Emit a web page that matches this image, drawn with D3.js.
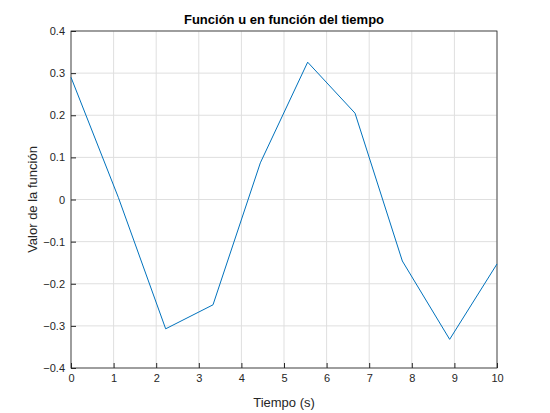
<!DOCTYPE html>
<html><head><meta charset="utf-8">
<script src="https://cdn.jsdelivr.net/npm/d3@7"></script>
<style>body{margin:0;background:#fff}svg{font-family:"Liberation Sans",Arial,sans-serif}</style>
</head><body>
<script>
// sample times (linspace 0..10, 10 points) and function values
var tiempo = [0, 10/9, 20/9, 30/9, 40/9, 50/9, 60/9, 70/9, 80/9, 10];
var valores = [0.29, 0.005, -0.307, -0.25, 0.087, 0.326, 0.205, -0.146, -0.332, -0.153];
var xTicks = [0,1,2,3,4,5,6,7,8,9,10];
var yTicks = [-0.4,-0.3,-0.2,-0.1,0,0.1,0.2,0.3,0.4];

var w = 550, h = 413;
var m = {left: 71, right: 53, top: 31, bottom: 45};
var svg = d3.select("body").append("svg").attr("width", w).attr("height", h);

var x = d3.scaleLinear().domain([0,10]).range([m.left, w - m.right]);
var y = d3.scaleLinear().domain([-0.4,0.4]).range([h - m.bottom, m.top]);

svg.append("rect").attr("x", m.left).attr("y", m.top)
  .attr("width", x(10) - x(0)).attr("height", y(-0.4) - y(0.4)).attr("fill", "#fff");

// grid
svg.append("g").selectAll("line").data(xTicks).enter().append("line")
  .attr("x1", d => x(d)).attr("x2", d => x(d)).attr("y1", y(-0.4)).attr("y2", y(0.4))
  .attr("stroke", "#dfdfdf").attr("stroke-width", 1);
svg.append("g").selectAll("line").data(yTicks).enter().append("line")
  .attr("y1", d => y(d)).attr("y2", d => y(d)).attr("x1", x(0)).attr("x2", x(10))
  .attr("stroke", "#dfdfdf").attr("stroke-width", 1);

// box
svg.append("rect").attr("x", m.left).attr("y", m.top)
  .attr("width", x(10) - x(0)).attr("height", y(-0.4) - y(0.4))
  .attr("fill", "none").attr("stroke", "#262626").attr("stroke-width", 0.8);

var fmt = d => d === 0 ? "0" : d3.format(".1f")(d);
var xa = svg.append("g").attr("transform", "translate(0," + y(-0.4) + ")")
  .call(d3.axisBottom(x).tickValues(xTicks).tickSize(-5).tickPadding(6).tickFormat(d3.format("d")));
var ya = svg.append("g").attr("transform", "translate(" + x(0) + ",0)")
  .call(d3.axisLeft(y).tickValues(yTicks).tickSize(-5).tickPadding(6).tickFormat(fmt));
[xa, ya].forEach(function(a){
  a.select(".domain").remove();
  a.selectAll("line").attr("stroke", "#262626");
  a.selectAll("text").attr("fill", "#262626").style("font-size", "11px");
});

// line
svg.append("path").datum(d3.range(tiempo.length))
  .attr("fill", "none").attr("stroke", "#0072bd").attr("stroke-width", 1)
  .attr("d", d3.line().x(i => x(tiempo[i])).y(i => y(valores[i])));

svg.append("text").attr("x", (x(0)+x(10))/2).attr("y", 24).attr("text-anchor", "middle")
  .style("font-size", "13px").style("font-weight", "bold").attr("fill", "#000")
  .text("Función u en función del tiempo");
svg.append("text").attr("x", (x(0)+x(10))/2).attr("y", 407).attr("text-anchor", "middle")
  .style("font-size", "13px").attr("fill", "#262626").text("Tiempo (s)");
svg.append("text").attr("transform", "translate(37," + (y(0)) + ") rotate(-90)")
  .attr("text-anchor", "middle").style("font-size", "13px").attr("fill", "#262626")
  .text("Valor de la función");
</script>
</body></html>
